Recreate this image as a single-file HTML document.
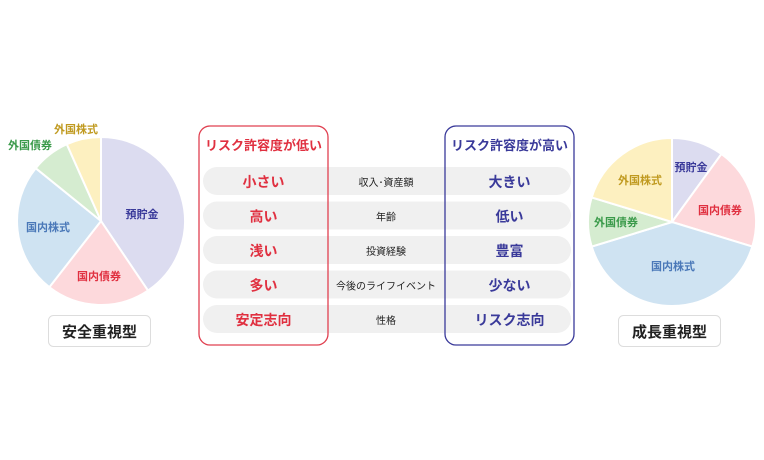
<!DOCTYPE html>
<html><head><meta charset="utf-8"><style>
body{margin:0;background:#fff;}
svg{display:block;font-family:"Liberation Sans","Noto Sans CJK JP",sans-serif;font-weight:bold;}
</style></head><body>
<svg width="764" height="460" viewBox="0 0 764 460">
<g stroke="#fff" stroke-width="2">
<path d="M101,221 L101,137 A84,84 0 0 1 148,290.6 Z" fill="#dcdcf0"/>
<path d="M101,221 L148,290.6 A84,84 0 0 1 49.3,287.2 Z" fill="#fdd9dc"/>
<path d="M101,221 L49.3,287.2 A84,84 0 0 1 35.7,168.2 Z" fill="#cfe3f2"/>
<path d="M101,221 L35.7,168.2 A84,84 0 0 1 66.8,144.2 Z" fill="#d5ecd0"/>
<path d="M101,221 L66.8,144.2 A84,84 0 0 1 101,137 Z" fill="#fdf0c0"/>
<path d="M672,222 L672,138 A84,84 0 0 1 721.4,154 Z" fill="#dcdcf0"/>
<path d="M672,222 L721.4,154 A84,84 0 0 1 752.3,246.6 Z" fill="#fdd9dc"/>
<path d="M672,222 L752.3,246.6 A84,84 0 0 1 591.7,246.6 Z" fill="#cfe3f2"/>
<path d="M672,222 L591.7,246.6 A84,84 0 0 1 591.7,197.4 Z" fill="#d5ecd0"/>
<path d="M672,222 L591.7,197.4 A84,84 0 0 1 672,138 Z" fill="#fdf0c0"/>
</g>
<g font-size="11" text-anchor="middle">
<text x="142" y="218" fill="#3a3a9a">預貯金</text>
<text x="99" y="280" fill="#e03040">国内債券</text>
<text x="48" y="231" fill="#4a78b8">国内株式</text>
<text x="30" y="149" fill="#3a9a4a">外国債券</text>
<text x="76" y="133" fill="#c09a20">外国株式</text>
<text x="691" y="171" fill="#3a3a9a">預貯金</text>
<text x="720" y="214" fill="#e03040">国内債券</text>
<text x="673" y="270" fill="#4a78b8">国内株式</text>
<text x="616" y="226" fill="#3a9a4a">外国債券</text>
<text x="640" y="184" fill="#c09a20">外国株式</text>
</g>
<rect x="48.5" y="315.5" width="102" height="31" rx="5" fill="#fff" stroke="#ddd"/>
<text x="99.5" y="337" font-size="15" text-anchor="middle" fill="#222">安全重視型</text>
<rect x="618.5" y="315.5" width="102" height="31" rx="5" fill="#fff" stroke="#ddd"/>
<text x="669.5" y="337" font-size="15" text-anchor="middle" fill="#222">成長重視型</text>
<g fill="#f0f0f0">
<rect x="203" y="167" width="368" height="28" rx="14"/>
<rect x="203" y="201.5" width="368" height="28" rx="14"/>
<rect x="203" y="236" width="368" height="28" rx="14"/>
<rect x="203" y="270.5" width="368" height="28" rx="14"/>
<rect x="203" y="305" width="368" height="28" rx="14"/>
</g>
<rect x="199" y="126" width="129" height="219" rx="11" fill="none" stroke="#e04050" stroke-width="1.3"/>
<rect x="445" y="126" width="129" height="219" rx="11" fill="none" stroke="#3a3a9a" stroke-width="1.3"/>
<g font-size="13" text-anchor="middle" fill="#e03040">
<text x="263.5" y="150">リスク許容度が低い</text>
</g>
<g font-size="13" text-anchor="middle" fill="#3a3a9a">
<text x="509.5" y="150">リスク許容度が高い</text>
</g>
<g font-size="14" text-anchor="middle" fill="#e03040">
<text x="263.5" y="187">小さい</text>
<text x="263.5" y="221.5">高い</text>
<text x="263.5" y="256">浅い</text>
<text x="263.5" y="290.5">多い</text>
<text x="263.5" y="325">安定志向</text>
</g>
<g font-size="14" text-anchor="middle" fill="#3a3a9a">
<text x="509.5" y="187">大きい</text>
<text x="509.5" y="221.5">低い</text>
<text x="509.5" y="256">豊富</text>
<text x="509.5" y="290.5">少ない</text>
<text x="509.5" y="325">リスク志向</text>
</g>
<g font-size="10" text-anchor="middle" fill="#222" font-weight="normal">
<text x="386" y="186">収入･資産額</text>
<text x="386" y="220.5">年齢</text>
<text x="386" y="255">投資経験</text>
<text x="386" y="289.5">今後のライフイベント</text>
<text x="386" y="324">性格</text>
</g>
</svg>
</body></html>
